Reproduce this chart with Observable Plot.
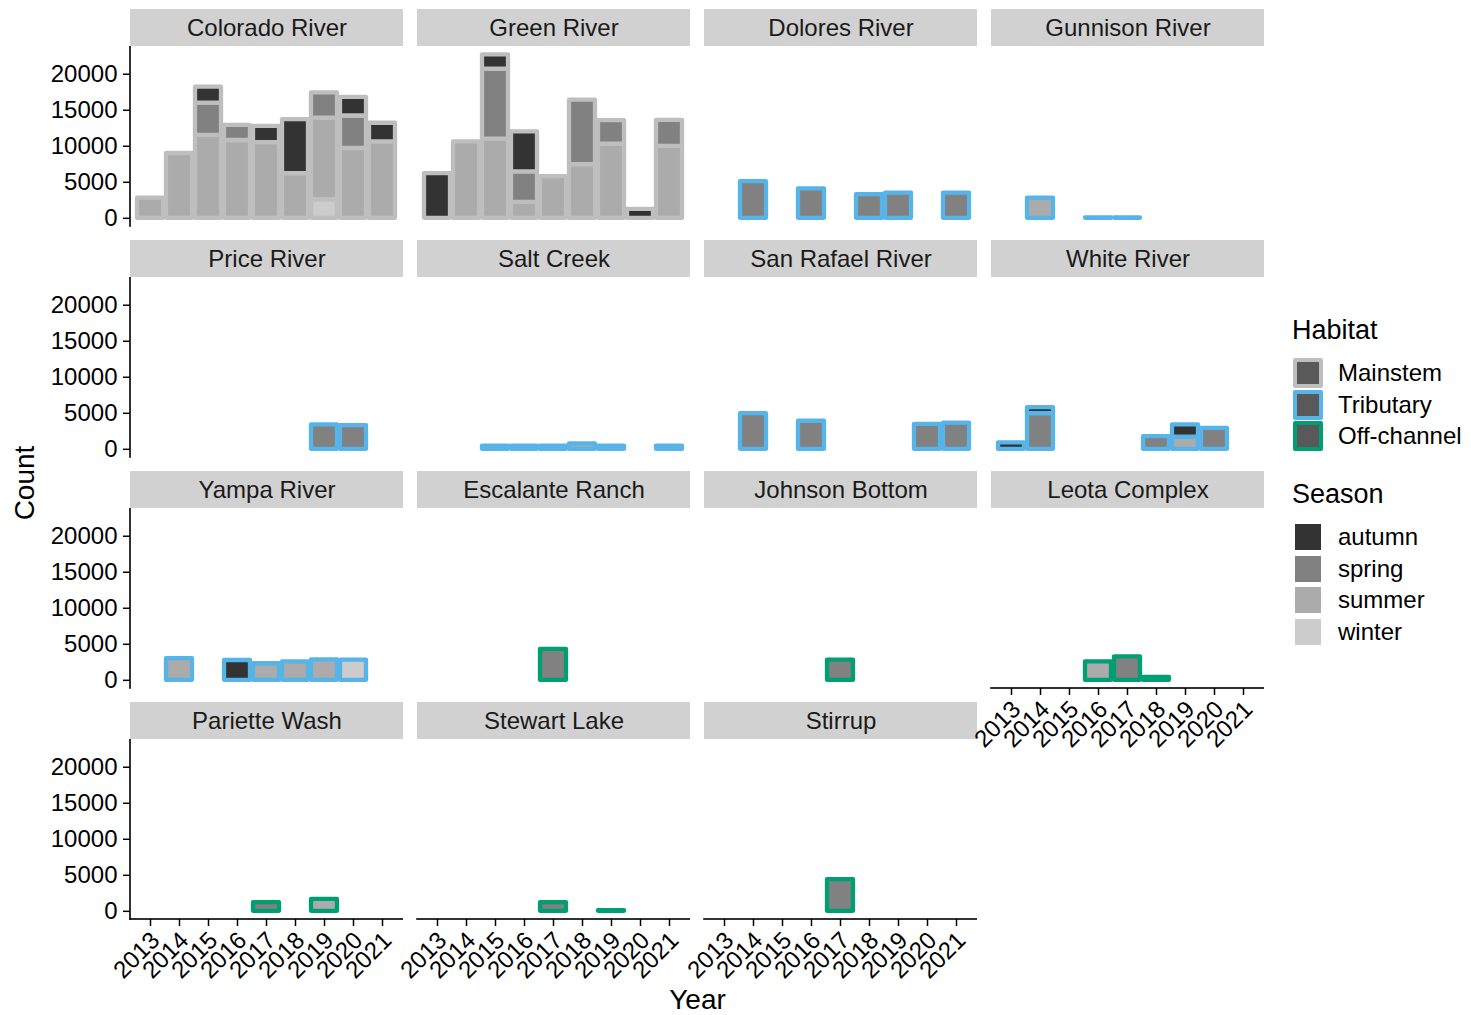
<!DOCTYPE html>
<html>
<head>
<meta charset="utf-8">
<script src="https://cdn.jsdelivr.net/npm/d3@7"></script>
<script src="https://cdn.jsdelivr.net/npm/@observablehq/plot@0.6"></script>
<style>
  html, body { margin: 0; padding: 0; background: #fff; }
  body { font-family: "Liberation Sans", Arial, Helvetica, sans-serif; color: #000; }
  #wrap { position: relative; width: 1471px; height: 1015px; overflow: hidden; }
  #chart { position: absolute; left: 0; top: 0; }
  .lg { position: absolute; white-space: nowrap; line-height: 1; }
  .key { position: absolute; box-sizing: border-box; }
</style>
</head>
<body>
<div id="wrap"><div id="chart"></div><div id="legend"></div></div>
<script>
// ---------------- data ----------------
const years = [2013, 2014, 2015, 2016, 2017, 2018, 2019, 2020, 2021];
const seasons = ["autumn", "spring", "summer", "winter"];
const seasonColors = ["#333333", "#818181", "#ABABAB", "#CCCCCC"];
const habitats = ["Mainstem", "Tributary", "Off-channel"];
const habitatColors = ["#BEBEBE", "#56B4E9", "#009E73"];
const yTicks = [0, 5000, 10000, 15000, 20000];

const sites = ["Colorado River", "Green River", "Dolores River", "Gunnison River",
  "Price River", "Salt Creek", "San Rafael River", "White River",
  "Yampa River", "Escalante Ranch", "Johnson Bottom", "Leota Complex",
  "Pariette Wash", "Stewart Lake", "Stirrup"];
const siteHabitat = ["Mainstem", "Mainstem", "Tributary", "Tributary",
  "Tributary", "Tributary", "Tributary", "Tributary",
  "Tributary", "Off-channel", "Off-channel", "Off-channel",
  "Off-channel", "Off-channel", "Off-channel"];

// [year, season, count]
const coloradoRiver = [
  [2013, "summer", 2800], [2014, "summer", 9000],
  [2015, "summer", 11500], [2015, "spring", 4500], [2015, "autumn", 2200],
  [2016, "summer", 10800], [2016, "spring", 2100],
  [2017, "summer", 10500], [2017, "autumn", 2250],
  [2018, "summer", 6200], [2018, "autumn", 7500],
  [2019, "winter", 2600], [2019, "summer", 11300], [2019, "spring", 3500],
  [2020, "summer", 9700], [2020, "spring", 4500], [2020, "autumn", 2600],
  [2021, "summer", 10600], [2021, "autumn", 2600]];
const greenRiver = [
  [2013, "autumn", 6200], [2014, "summer", 10600],
  [2015, "summer", 11000], [2015, "spring", 9700], [2015, "autumn", 2000],
  [2016, "summer", 2200], [2016, "spring", 4250], [2016, "autumn", 5550],
  [2017, "summer", 5800],
  [2018, "summer", 7450], [2018, "spring", 8950],
  [2019, "summer", 10300], [2019, "spring", 3250],
  [2020, "autumn", 1250],
  [2021, "summer", 10000], [2021, "spring", 3600]];
const doloresRiver = [[2014, "spring", 5100], [2016, "spring", 4100], [2018, "spring", 3300], [2019, "spring", 3500], [2021, "spring", 3500]];
const gunnisonRiver = [[2014, "summer", 2800], [2016, "summer", 60], [2017, "summer", 60]];
const priceRiver = [[2019, "spring", 3400], [2020, "spring", 3300]];
const saltCreek = [[2015, "summer", 450], [2016, "summer", 450], [2017, "summer", 450], [2018, "summer", 750], [2019, "summer", 450], [2021, "summer", 450]];
const sanRafaelRiver = [[2014, "spring", 4950], [2016, "spring", 3900], [2020, "spring", 3450], [2021, "spring", 3650]];
const whiteRiver = [
  [2013, "autumn", 900],
  [2014, "spring", 4950], [2014, "autumn", 850],
  [2018, "spring", 1750],
  [2019, "summer", 1700], [2019, "autumn", 1700],
  [2020, "spring", 2900]];
const yampaRiver = [[2014, "summer", 3000], [2016, "autumn", 2750], [2017, "summer", 2300], [2018, "summer", 2550], [2019, "summer", 2850], [2020, "winter", 2800]];
const escalanteRanch = [[2017, "spring", 4300]];
const johnsonBottom = [[2017, "spring", 2800]];
const leotaComplex = [[2016, "summer", 2550], [2017, "spring", 3250], [2018, "summer", 400]];
const parietteWash = [[2017, "spring", 1200], [2019, "summer", 1650]];
const stewartLake = [[2017, "spring", 1200], [2019, "summer", 100]];
const stirrup = [[2017, "spring", 4400]];

const siteCounts = [coloradoRiver, greenRiver, doloresRiver, gunnisonRiver,
  priceRiver, saltCreek, sanRafaelRiver, whiteRiver,
  yampaRiver, escalanteRanch, johnsonBottom, leotaComplex,
  parietteWash, stewartLake, stirrup];

// ---------------- build tables ----------------
const nCols = 4;
const table = [];
sites.forEach((name, i) => {
  for (const [year, season, count] of siteCounts[i]) {
    table.push({site: name, habitat: siteHabitat[i], year, season, count, col: i % nCols, row: Math.floor(i / nCols)});
  }
});
const panels = sites.map((name, i) => ({site: name, i, col: i % nCols, row: Math.floor(i / nCols)}));
const leftPanels = panels.filter(p => p.col === 0);
const bottomPanels = panels.filter(p => p.i + nCols >= sites.length);

// ---------------- layout ----------------
const W = 1471, H = 1015;
const mL = 130, mT = 46;
const panelW = 273, panelH = 180, gapX = 14, stripH = 37, gapY = 14;
const mR = W - (mL + 4 * panelW + 3 * gapX);
const mB = H - (mT + 4 * panelH + 3 * (gapY + stripH));
const axisW = 1.6;
const font = "Liberation Sans, Arial, Helvetica, sans-serif";

const chart = Plot.plot({
  width: W,
  height: H,
  marginLeft: mL,
  marginRight: mR,
  marginTop: mT,
  marginBottom: mB,
  style: {fontFamily: font, fontSize: "24px", color: "#000", background: "#fff", overflow: "visible"},
  fx: {domain: [0, 1, 2, 3], paddingInner: gapX / (panelW + gapX), paddingOuter: 0, axis: null, label: null},
  fy: {domain: [0, 1, 2, 3], paddingInner: (gapY + stripH) / (panelH + gapY + stripH), paddingOuter: 0, axis: null, label: null},
  x: {type: "band", domain: years, paddingInner: 0.1, paddingOuter: 0.15, axis: null},
  y: {domain: [-1135, 23850], axis: null},
  color: {type: "ordinal", domain: [...seasons, ...habitats], range: [...seasonColors, ...habitatColors]},
  marks: [
    // strips
    Plot.rect(panels, {fx: "col", fy: "row", fill: "#D1D1D1", insetTop: -stripH, insetBottom: panelH}),
    Plot.text(panels, {fx: "col", fy: "row", text: "site", frameAnchor: "top", lineAnchor: "middle", dy: -stripH / 2, fontSize: 24, fill: "#1a1a1a"}),
    // bars
    Plot.barY(table, {
      fx: "col", fy: "row", x: "year", y: "count",
      fill: "season", stroke: "habitat", strokeWidth: 4.3, strokeLinejoin: "round",
      order: ["winter", "summer", "spring", "autumn"]
    }),
    // axis lines
    Plot.rect(leftPanels, {fx: "col", fy: "row", fill: "#000", insetLeft: -axisW / 2, insetRight: panelW - axisW / 2, insetBottom: -axisW / 2}),
    Plot.rect(bottomPanels, {fx: "col", fy: "row", fill: "#000", insetTop: panelH - axisW / 2, insetBottom: -axisW / 2, insetLeft: -axisW / 2}),
    // axes
    Plot.axisY(yTicks, {facetAnchor: "left", tickSize: 7, tickPadding: 6, strokeWidth: 1.5,
      tickFormat: d => `${d}`, fontSize: 24, label: null}),
    Plot.axisX(years, {facetAnchor: "bottom-empty", tickSize: 7, strokeWidth: 1.5,
      tickFormat: () => "", label: null}),
    Plot.axisX(years, {facetAnchor: "bottom-empty", tickSize: 0, tickPadding: 17, tickRotate: -45,
      tickFormat: d => `${d}`, fontSize: 24, dx: 5, label: null}),
    // axis titles
    Plot.text(["Year"], {facet: "super", frameAnchor: "bottom", lineAnchor: "middle", textAnchor: "middle", dy: 81, fontSize: 28}),
    Plot.text(["Count"], {facet: "super", frameAnchor: "left", lineAnchor: "middle", textAnchor: "middle", dx: -105, rotate: -90, fontSize: 28})
  ]
});
document.getElementById("chart").appendChild(chart);

// ---------------- legend ----------------
const legend = document.getElementById("legend");
function addText(txt, left, cy, size) {
  const d = document.createElement("div");
  d.className = "lg";
  d.textContent = txt;
  d.style.left = left + "px";
  d.style.fontSize = size + "px";
  d.style.top = (cy - size / 2) + "px";
  legend.appendChild(d);
}
function addKey(left, cy, size, fill, border, bw) {
  const d = document.createElement("div");
  d.className = "key";
  d.style.left = left + "px";
  d.style.top = (cy - size / 2) + "px";
  d.style.width = size + "px";
  d.style.height = size + "px";
  d.style.background = fill;
  if (border) { d.style.border = `${bw}px solid ${border}`; d.style.borderRadius = "2px"; }
  legend.appendChild(d);
}
addText("Habitat", 1292, 330, 27);
habitats.forEach((h, i) => {
  const cy = 373 + i * 31.5;
  addKey(1293, cy, 30, "#595959", habitatColors[i], 4);
  addText(h, 1338, cy, 24);
});
addText("Season", 1292, 494, 27);
seasons.forEach((s, i) => {
  const cy = 537 + i * 31.5;
  addKey(1295, cy, 26, seasonColors[i], null, 0);
  addText(s, 1338, cy, 24);
});
</script>
</body>
</html>
